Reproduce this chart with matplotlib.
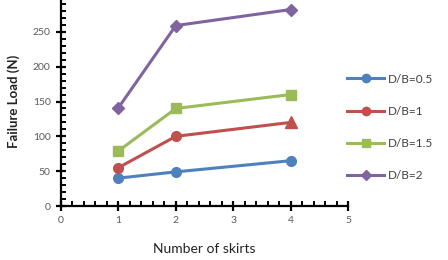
import matplotlib
matplotlib.use('Agg')
import matplotlib.pyplot as plt
from matplotlib.ticker import MultipleLocator
from matplotlib.lines import Line2D

plt.rcParams['font.family'] = ['Lato', 'DejaVu Sans']

# Данные
skirts = [1, 2, 4]
load_05 = [40, 49, 65]
load_1 = [55, 100, 120]
load_15 = [79, 140, 160]
load_2 = [141, 259, 282]
labels = ['D/B=0.5', 'D/B=1', 'D/B=1.5', 'D/B=2']

colors = ['#4F81BD', '#C0504D', '#9BBB59', '#8064A2']
tick_color = '#595959'

fig = plt.figure(figsize=(4.48, 2.60), dpi=100)
ax = fig.add_axes([61 / 448, 1 - 206 / 260, (348 - 61) / 448, 209 / 260])

ax.plot(skirts, load_05, color=colors[0], lw=2.2, marker='o', ms=7)
ax.plot(skirts[:2], load_1[:2], color=colors[1], lw=2.2, marker='o', ms=7)
ax.plot(skirts[1:], load_1[1:], color=colors[1], lw=2.2)
ax.plot(skirts[2:], load_1[2:], color=colors[1], lw=0, marker='^', ms=8)
ax.plot(skirts, load_15, color=colors[2], lw=2.2, marker='s', ms=7)
ax.plot(skirts, load_2, color=colors[3], lw=2.2, marker='D', ms=6)

ax.set_xlim(0, 5)
ax.set_ylim(0, 300)
ax.xaxis.set_major_locator(MultipleLocator(1))
ax.xaxis.set_minor_locator(MultipleLocator(0.2))
ax.yaxis.set_major_locator(MultipleLocator(50))
ax.yaxis.set_minor_locator(MultipleLocator(10))

for s in ['top', 'right']:
    ax.spines[s].set_visible(False)
for s in ['left', 'bottom']:
    ax.spines[s].set_linewidth(1.6)
    ax.spines[s].set_color('black')

ax.tick_params(which='major', direction='inout', length=7, width=1.6,
               labelsize=7.5, labelcolor=tick_color, pad=4)
ax.tick_params(which='minor', direction='in', length=3.5, width=1.4)
ax.set_xlabel('Number of skirts', fontsize=10, color='#222222', labelpad=13)
ax.set_ylabel('Failure Load (N)', fontsize=9.5, fontweight='bold',
              color='#222222', labelpad=9)

# Легенда
handles = [
    Line2D([0], [0], color=colors[0], lw=2.2, marker='o', ms=6),
    Line2D([0], [0], color=colors[1], lw=2.2, marker='o', ms=6),
    Line2D([0], [0], color=colors[2], lw=2.2, marker='s', ms=6),
    Line2D([0], [0], color=colors[3], lw=2.2, marker='D', ms=5),
]
fig.legend(handles, labels, loc='upper left', bbox_to_anchor=(336 / 448, 1 - 63 / 260),
           frameon=False, fontsize=8.5, labelcolor='#404040', handlelength=3.2,
           labelspacing=1.8, handletextpad=0.3)

fig.savefig('out.png', dpi=100)
